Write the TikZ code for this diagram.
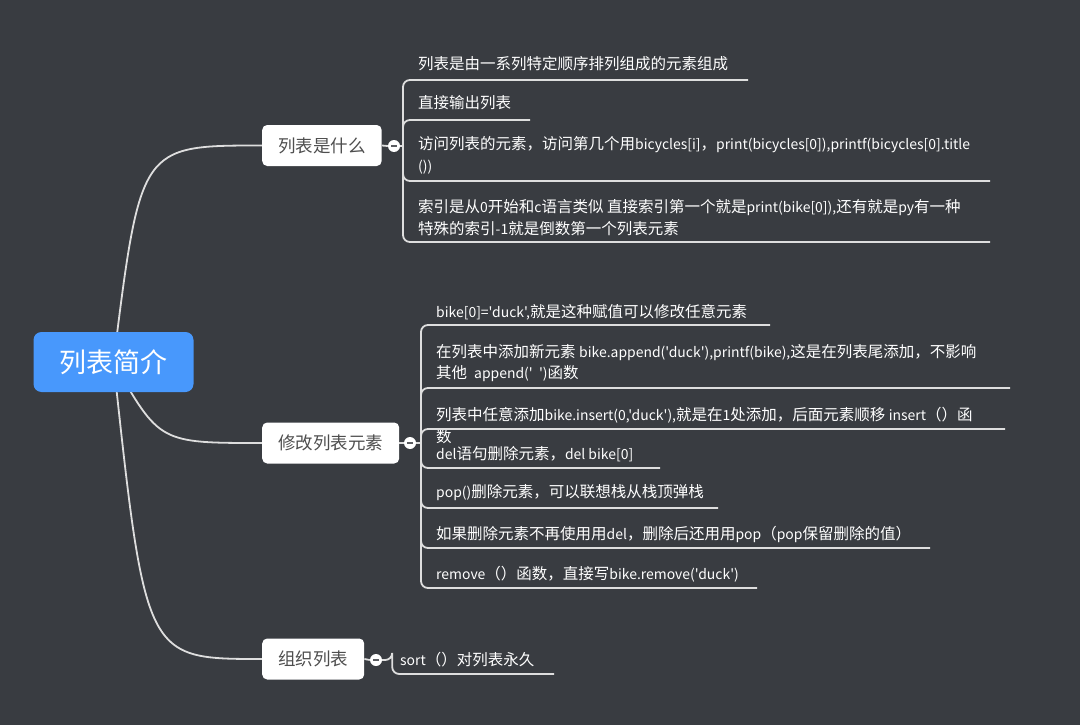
\documentclass[tikz,border=0pt]{standalone}
\usepackage{fontspec}
\setmainfont{Noto Sans CJK SC}[Ligatures=TeXOff]
\newfontfamily\hanfont{Noto Sans CJK SC}[Ligatures=TeXOff]
\newfontfamily\latfont{Noto Sans CJK SC}[Ligatures=TeXOff, Scale=0.9]
\usepackage{xcolor}
\usepackage{tikz}
\usetikzlibrary{positioning, backgrounds, calc}
\definecolor{mapbg}{RGB}{57,60,65}
\definecolor{maplink}{RGB}{222,222,222}
\definecolor{rootblue}{RGB}{72,152,252}
\definecolor{topicgray}{RGB}{78,78,78}
\definecolor{foldgray}{RGB}{90,92,96}
% narrower latin runs inside the leaf texts
\newcount\hanchar
\hanchar="3000 \loop\ifnum\hanchar<"3040 \XeTeXcharclass\hanchar=1 \advance\hanchar by 1 \repeat
\hanchar="4E00 \loop\ifnum\hanchar<"A000 \XeTeXcharclass\hanchar=1 \advance\hanchar by 1 \repeat
\hanchar="FF00 \loop\ifnum\hanchar<"FF60 \XeTeXcharclass\hanchar=1 \advance\hanchar by 1 \repeat
\XeTeXinterchartoks 0 1 = {\hanfont}
\XeTeXinterchartoks 4095 1 = {\hanfont}
\XeTeXinterchartoks 1 0 = {\latfont}
\XeTeXinterchartoks 4095 0 = {\latfont}
\newcommand\leaffont{\fontsize{15.5}{21.5}\selectfont\XeTeXinterchartokenstate=1\relax}

\begin{document}
\begin{tikzpicture}[
  x=1pt, y=-1pt,
  root/.style={
    fill=rootblue, text=white, rounded corners=8pt,
    font=\fontsize{27}{32}\selectfont,
    minimum height=60pt, inner xsep=26pt
  },
  topic/.style={
    fill=white, text=topicgray, rounded corners=5pt, anchor=west,
    font=\fontsize{17.5}{21}\selectfont,
    minimum height=41pt, inner xsep=16pt
  },
  leaf/.style={
    anchor=west, text=white, align=left, inner sep=0pt,
    font=\leaffont
  },
  link/.style={draw=maplink, line width=1.8pt, rounded corners=7pt},
  fold/.style={
    circle, fill=white, minimum size=12pt, inner sep=0pt,
    path picture={\draw[foldgray, line width=1.6pt]
      ([xshift=-3pt]path picture bounding box.center) --
      ([xshift=3pt]path picture bounding box.center);}
  }
]
\useasboundingbox (0,0) rectangle (1080,725);
\begin{pgfonlayer}{background}
\fill[mapbg] (0,0) rectangle (1080,725);
\end{pgfonlayer}

% centre and main branches
\node[root] (root) at (113.5,362) {列表简介};
\node[topic] (t1) at (262,145.5) {列表是什么};
\node[topic] (t2) at (262,443) {修改列表元素};
\node[topic] (t3) at (262,659) {组织列表};

\node[fold] (f1) at (394,146) {};
\node[fold] (f2) at (410,443) {};
\node[fold] (f3) at (376,660) {};

\begin{pgfonlayer}{background}
\draw[link] (root.center) .. controls ($(root.center |- t1.west)+(27,0)$) .. (t1.west);
\draw[link] (root.center) .. controls ($(root.center |- t2.west)+(46,0)$) .. (t2.west);
\draw[link] (root.center) .. controls ($(root.center |- t3.west)+(32,0)$) .. (t3.west);
\end{pgfonlayer}

\draw[link] (t1.east) -- (f1.west);
\draw[link] (t2.east) -- (f2.west);
\draw[link] (t3.east) -- (f3.west);

% 列表是什么
\node[leaf] (a1) at (418,64) {列表是由一系列特定顺序排列组成的元素组成};
\node[leaf] (a2) at (418,103) {直接输出列表};
\node[leaf] (a3) at (418,155.5) {访问列表的元素，访问第几个用bicycles[i]，print(bicycles[0]),printf(bicycles[0].title\\())};
\node[leaf] (a4) at (418,217.5) {索引是从0开始和c语言类似 直接索引第一个就是print(bike[0]),还有就是py有一种\\特殊的索引-1就是倒数第一个列表元素};
\coordinate (s1) at (403,146);
\coordinate (a1e) at (748,80);
\coordinate (a2e) at (530,120);
\coordinate (a3e) at (990,181);
\coordinate (a4e) at (990,242);
\draw[link] (f1.east) -- (s1);
\foreach \e in {a1e,a2e,a3e,a4e}
  \draw[link] (s1) |- (\e);

% 修改列表元素
\node[leaf] (b1) at (436,312) {bike[0]='duck',就是这种赋值可以修改任意元素};
\node[leaf] (b2) at (436,363) {在列表中添加新元素 bike.append('duck'),printf(bike),这是在列表尾添加，不影响\\其他\ \ append('\ \ ')函数};
\node[leaf] (b3) at (436,425.5) {列表中任意添加bike.insert(0,'duck'),就是在1处添加，后面元素顺移 insert（）函\\数};
\node[leaf] (b4) at (436,454) {del语句删除元素，del bike[0]};
\node[leaf] (b5) at (436,493) {pop()删除元素，可以联想栈从栈顶弹栈};
\node[leaf] (b6) at (436,534) {如果删除元素不再使用用del，删除后还用用pop（pop保留删除的值）};
\node[leaf] (b7) at (436,574) {remove（）函数，直接写bike.remove('duck')};
\coordinate (s2) at (421,443);
\coordinate (b1e) at (770,325);
\coordinate (b2e) at (1010,388);
\coordinate (b3e) at (1005,429);
\coordinate (b4e) at (660,468);
\coordinate (b5e) at (718,508);
\coordinate (b6e) at (930,548);
\coordinate (b7e) at (757,588);
\draw[link] (f2.east) -- (s2);
\foreach \e in {b1e,b2e,b3e,b4e,b5e,b6e,b7e}
  \draw[link] (s2) |- (\e);

% 组织列表
\node[leaf] (c1) at (400,660) {sort（）对列表永久};
\coordinate (c1e) at (554,674);
\draw[link] (f3.east) -| ++(10,0) |- (c1e);
\end{tikzpicture}
\end{document}
